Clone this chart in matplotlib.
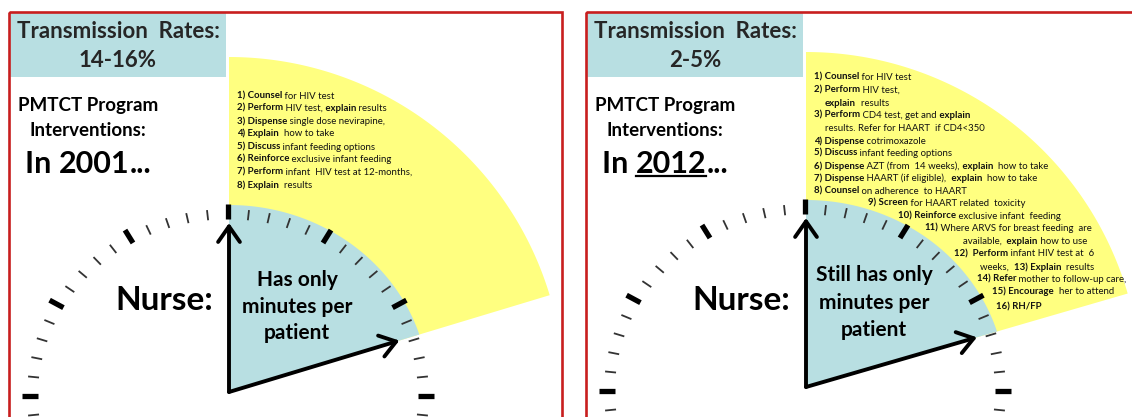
import matplotlib.pyplot as plt
import numpy as np

plt.rcParams['font.family'] = ['Lato', 'DejaVu Sans']

# dados do quadro (2001 x 2012)
rates = ['14-16%', '2-5%']
years = ['2001', '2012']
hand_minutes = [12.2, 12.3]   # ponteiro que marca os poucos minutos por paciente
nurse_lines = [['Has only', 'minutes per', 'patient'],
               ['Still has only', 'minutes per', 'patient']]

# cada linha: lista de (texto, negrito)
tasks_2001 = [
    [('1) Counsel', True), (' for HIV test', False)],
    [('2) Perform', True), (' HIV test,', False), (' explain', True), (' results', False)],
    [('3) Dispense', True), (' single dose nevirapine,', False)],
    [('4) Explain', True), ('  how to take', False)],
    [('5) Discuss', True), (' infant feeding options', False)],
    [('6) Reinforce', True), (' exclusive infant feeding', False)],
    [('7) Perform', True), (' infant  HIV test at 12-months,', False)],
    [('8) Explain', True), ('  results', False)],
]
tasks_2012 = [
    [('1) Counsel', True), (' for HIV test', False)],
    [('2) Perform', True), (' HIV test,', False)],
    [('explain', True), ('  results', False)],
    [('3) Perform', True), (' CD4 test, get and', False), (' explain', True)],
    [('results. Refer for HAART  if CD4<350', False)],
    [('4) Dispense', True), (' cotrimoxazole', False)],
    [('5) Discuss', True), (' infant feeding options', False)],
    [('6) Dispense', True), (' AZT (from  14 weeks),', False), (' explain', True), ('  how to take', False)],
    [('7) Dispense', True), (' HAART (if eligible), ', False), (' explain', True), ('  how to take', False)],
    [('8) Counsel', True), (' on adherence  to HAART', False)],
    [('9) Screen', True), (' for HAART related  toxicity', False)],
    [('10) Reinforce', True), (' exclusive infant  feeding', False)],
    [('11)', True), (' Where ARVS for breast feeding  are', False)],
    [('available, ', False), (' explain', True), (' how to use', False)],
    [('12)  Perform', True), (' infant HIV test at  6', False)],
    [('weeks,  ', False), ('13) Explain', True), ('  results', False)],
    [('14) Refer', True), (' mother to follow-up care,', False)],
    [('15) Encourage', True), ('  her to attend', False)],
    [('16) RH/FP', True)],
]
tasks = [tasks_2001, tasks_2012]

# layout (pixels)
panel_dx = [0, 577]
clock_cx = [229, 806]
clock_cy = [392, 387]
list_x = [[237] * 8,
          [814, 814, 825, 814, 825, 814, 814, 814, 814, 814,
           868, 898, 924, 963, 954, 980, 977, 992, 996]]
list_y = [[96, 108, 121, 133, 147, 159, 172, 185],
          [77, 90, 103, 115, 128, 141, 153, 166, 178, 191,
           203, 216, 228, 241, 254, 267, 279, 291, 307]]
nurse_y = [[280, 307, 333], [275, 303, 330]]

TEAL = '#b8dfe2'
YELLOW = '#ffff80'
RED = '#c81e1e'

fig = plt.figure(figsize=(11.32, 4.17), dpi=100)
ax = fig.add_axes([0, 0, 1, 1])
ax.set_xlim(0, 1132)
ax.set_ylim(417, 0)
ax.axis('off')


def ellipse_r(theta, rx, ry):
    return rx * ry / np.sqrt((ry * np.cos(theta)) ** 2 + (rx * np.sin(theta)) ** 2)


def sector(cx, cy, rx, ry, a0, a1, color, z):
    th = np.radians(np.linspace(a0, a1, 100))
    r = ellipse_r(th, rx, ry)
    xs = np.concatenate([[cx], cx + r * np.cos(th), [cx]])
    ys = np.concatenate([[cy], cy - r * np.sin(th), [cy]])
    ax.fill(xs, ys, color=color, lw=0, zorder=z)


def rich_line(x, y, parts, size):
    prev = None
    for txt, bold in parts:
        w = 'bold' if bold else 'normal'
        if prev is None:
            prev = ax.text(x, y, txt, fontsize=size, fontweight=w, color='#111111',
                           ha='left', va='center', zorder=6)
        else:
            prev = ax.annotate(txt, xy=(1, 0.5), xycoords=prev, fontsize=size,
                               fontweight=w, color='#111111', ha='left',
                               va='center', zorder=6)
    return prev


year_texts = []
for i in range(2):
    dx = panel_dx[i]
    cx, cy = clock_cx[i], clock_cy[i]

    # moldura vermelha e caixa da taxa de transmissao
    ax.add_patch(plt.Rectangle((9 + dx, 12), 553, 430, fill=False,
                               edgecolor=RED, lw=1.9, zorder=8))
    ax.add_patch(plt.Rectangle((10 + dx, 13), 216, 64, color=TEAL, lw=0, zorder=1))
    ax.text(118 + dx, 31, 'Transmission  Rates:', fontsize=16, fontweight='bold',
            color='#262626', ha='center', va='center')
    ax.text(118 + dx, 60, rates[i], fontsize=16, fontweight='bold',
            color='#262626', ha='center', va='center')

    ax.text(88 + dx, 105, 'PMTCT Program', fontsize=13.5, fontweight='bold',
            ha='center', va='center')
    ax.text(88 + dx, 131, 'Interventions:', fontsize=13.5, fontweight='bold',
            ha='center', va='center')
    t1 = ax.text(25 + dx, 164, 'In ', fontsize=22, fontweight='bold',
                 ha='left', va='center')
    t2 = ax.annotate(years[i], xy=(1, 0.5), xycoords=t1, fontsize=22,
                     fontweight='bold', ha='left', va='center')
    ax.annotate('...', xy=(1, 0.5), xycoords=t2, fontsize=22,
                fontweight='bold', ha='left', va='center')
    year_texts.append(t2)

    # setores do relogio
    ang = 90 - hand_minutes[i] * 6
    sector(cx, cy, 335, 335, ang, 90, YELLOW, 2)
    sector(cx, cy, 200, 187, ang, 90, TEAL, 3)

    # marcas dos minutos
    tcx, tcy = cx - 1, cy + 4
    for k in range(60):
        a = np.radians(90 - k * 6)
        thick = k % 5 == 0
        r_in, r_out = 190, (206 if thick else 201)
        xs = [tcx + r_in * np.cos(a), tcx + r_out * np.cos(a)]
        ys = [tcy - 0.93 * r_in * np.sin(a), tcy - 0.93 * r_out * np.sin(a)]
        ax.plot(xs, ys, color='black' if thick else '#333333',
                lw=3.8 if thick else 1.3, solid_capstyle='butt', zorder=4)

    # ponteiros
    arrow = dict(arrowstyle='->, head_length=0.4, head_width=0.28', lw=2.8,
                 color='black', mutation_scale=28, shrinkA=0, shrinkB=0)
    ax.annotate('', xy=(cx, cy - 169), xytext=(cx, cy), arrowprops=arrow, zorder=5)
    a = np.radians(ang)
    ax.annotate('', xy=(cx + 178 * np.cos(a), cy - 178 * np.sin(a)),
                xytext=(cx, cy), arrowprops=arrow, zorder=5)

    ax.text(164 + dx, 300, 'Nurse:', fontsize=24, fontweight='bold',
            ha='center', va='center', zorder=6)
    for line, y in zip(nurse_lines[i], nurse_y[i]):
        ax.text(cx + 68, y, line, fontsize=15, fontweight='bold',
                ha='center', va='center', zorder=6)

    for parts, x, y in zip(tasks[i], list_x[i], list_y[i]):
        rich_line(x, y, parts, 6.9)

# sublinhado do ano 2012
fig.canvas.draw()
bb = year_texts[1].get_window_extent()
inv = ax.transData.inverted()
(x0, y0), (x1, y1) = inv.transform([[bb.x0, bb.y0], [bb.x1, bb.y1]])
ax.plot([x0, x1], [y0 - 2, y0 - 2], color='black', lw=1.6, zorder=6)

fig.savefig('out.png', dpi=100)
